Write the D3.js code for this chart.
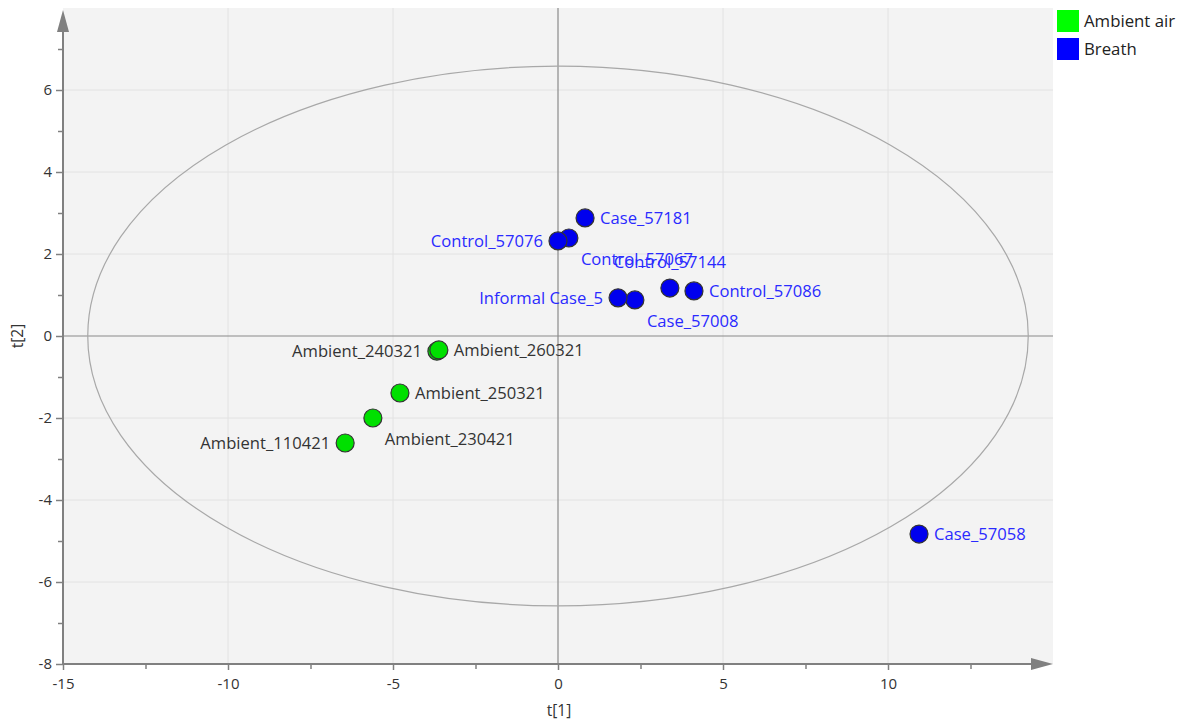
<!DOCTYPE html>
<html><head><meta charset="utf-8">
<script src="https://cdn.jsdelivr.net/npm/d3@7"></script>
<style>body{margin:0;background:#fff;}svg text{font-family:"Open Sans","Noto Sans",sans-serif;}</style>
</head><body>
<svg id="c" width="1186" height="722"></svg>
<script>
const names = ["Case_57181","Control_57076","Control_57067","Informal Case_5","Case_57008","Control_57144","Control_57086","Case_57058",
  "Ambient_260321","Ambient_240321","Ambient_250321","Ambient_230421","Ambient_110421"];
const groups = ["Breath","Breath","Breath","Breath","Breath","Breath","Breath","Breath",
  "Ambient air","Ambient air","Ambient air","Ambient air","Ambient air"];
const t1 = [0.82,0.0,0.33,1.82,2.33,3.39,4.12,10.94,-3.61,-3.67,-4.79,-5.61,-6.45];
const t2 = [2.88,2.32,2.39,0.93,0.88,1.17,1.10,-4.83,-0.34,-0.37,-1.39,-2.0,-2.61];
const labelPlace = ["right","left","belowright","left","belowright","above","right","right","right","left","right","belowright","left"];
const legendGroups = ["Ambient air","Breath"];
const xTicks = [-15,-10,-5,0,5,10];
const yTicks = [-8,-6,-4,-2,0,2,4,6];
const ellipseAxes = [14.25, 6.58];

const colors = {"Ambient air":"#00e000","Breath":"#0000ee"};
const textColors = {"Ambient air":"#333333","Breath":"#2a2aff"};

const svg = d3.select("#c");
const L=63, R=1053, T=8, B=664;
const x = d3.scaleLinear().domain([-15,15]).range([L,R]);
const y = d3.scaleLinear().domain([-8,8]).range([B,T]);

svg.append("rect").attr("x",L).attr("y",T).attr("width",R-L).attr("height",B-T).attr("fill","#f3f3f3");

// grid
svg.append("g").selectAll("line").data(xTicks.filter(d=>d!==0 && d!==-15)).join("line")
  .attr("x1",d=>x(d)).attr("x2",d=>x(d)).attr("y1",T).attr("y2",B).attr("stroke","#e2e2e2");
svg.append("g").selectAll("line").data(yTicks.filter(d=>d!==0 && d!==-8)).join("line")
  .attr("y1",d=>y(d)).attr("y2",d=>y(d)).attr("x1",L).attr("x2",R).attr("stroke","#e2e2e2");
// zero lines
svg.append("line").attr("x1",x(0)).attr("x2",x(0)).attr("y1",T).attr("y2",B).attr("stroke","#8a8a8a").attr("stroke-width",1.2);
svg.append("line").attr("y1",y(0)).attr("y2",y(0)).attr("x1",L).attr("x2",R).attr("stroke","#8a8a8a").attr("stroke-width",1.2);

// ellipse
svg.append("ellipse").attr("cx",x(0)).attr("cy",y(0))
  .attr("rx",x(ellipseAxes[0])-x(0)).attr("ry",y(0)-y(ellipseAxes[1]))
  .attr("fill","none").attr("stroke","#a8a8a8").attr("stroke-width",1.2);

// axes
const xAxis = d3.axisBottom(x).tickValues(d3.range(-15,15,2.5)).tickSize(5).tickFormat(d=>xTicks.includes(d)?d:"");
const gx = svg.append("g").attr("transform",`translate(0,${B})`).call(xAxis);
gx.select(".domain").remove();
gx.selectAll(".tick line").attr("stroke","#808080").attr("stroke-width",1.5).attr("y2",d=>xTicks.includes(d)?6:5);
gx.selectAll(".tick text").attr("font-size",15).attr("fill","#333").attr("y",14).attr("dy","0.71em");
const yAxis = d3.axisLeft(y).tickValues(d3.range(-8,8,1)).tickSize(5).tickFormat(d=>yTicks.includes(d)?d:"");
const gy = svg.append("g").attr("transform",`translate(${L},0)`).call(yAxis);
gy.select(".domain").remove();
gy.selectAll(".tick line").attr("stroke","#808080").attr("stroke-width",1.5).attr("x2",d=>yTicks.includes(d)?-7:-5);
gy.selectAll(".tick text").attr("font-size",15).attr("fill","#333").attr("x",-11);

svg.append("line").attr("x1",L).attr("x2",R-10).attr("y1",B).attr("y2",B).attr("stroke","#808080").attr("stroke-width",2);
svg.append("line").attr("x1",L).attr("x2",L).attr("y1",B).attr("y2",T+12).attr("stroke","#808080").attr("stroke-width",2);
svg.append("path").attr("d",`M${R},${B} L${R-22},${B-6} L${R-22},${B+6} Z`).attr("fill","#808080");
svg.append("path").attr("d",`M${L},${T+2} L${L-6},${T+24} L${L+6},${T+24} Z`).attr("fill","#808080");

svg.append("text").attr("x",(L+R)/2+1).attr("y",716).attr("text-anchor","middle").attr("font-size",15.5).attr("fill","#333").text("t[1]");
svg.append("text").attr("transform",`translate(23,${y(0)}) rotate(-90)`).attr("text-anchor","middle").attr("font-size",15.5).attr("fill","#333").text("t[2]");

// points
const data = names.map((n,i)=>({n,g:groups[i],x:t1[i],y:t2[i],p:labelPlace[i]}));
const order = data.slice().reverse();
svg.append("g").selectAll("circle").data(order).join("circle")
  .attr("cx",d=>x(d.x)).attr("cy",d=>y(d.y)).attr("r",9)
  .attr("fill",d=>colors[d.g]).attr("stroke","#333").attr("stroke-width",1.2);

svg.append("g").selectAll("text").data(data).join("text")
  .attr("font-size",16.6).attr("fill",d=>textColors[d.g])
  .attr("x",d=>{const cx=x(d.x); return d.p==="right"?cx+15:d.p==="left"?cx-15:d.p==="belowright"?cx+12:cx;})
  .attr("y",d=>{const cy=y(d.y); return d.p==="belowright"?cy+21:d.p==="above"?cy-26:cy;})
  .attr("dy","0.35em")
  .attr("text-anchor",d=>d.p==="left"?"end":d.p==="above"?"middle":"start")
  .text(d=>d.n);

// legend
const lg = svg.append("g").selectAll("g").data(legendGroups).join("g")
  .attr("transform",(d,i)=>`translate(1057,${10+i*28})`);
lg.append("rect").attr("width",22).attr("height",22).attr("fill",d=>d==="Breath"?"#0000ff":"#00ff00");
lg.append("text").attr("x",27).attr("y",11).attr("dy","0.35em").attr("font-size",16.8).attr("fill","#222").text(d=>d);
</script>
</body></html>
